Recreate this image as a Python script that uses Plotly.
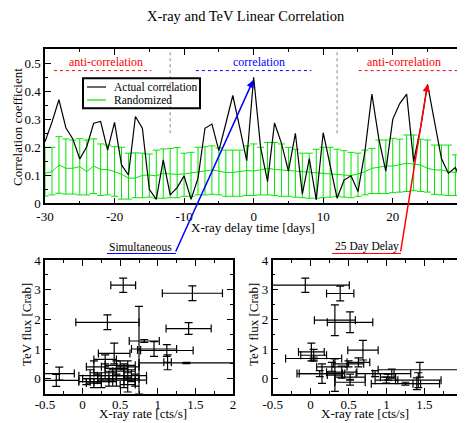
import plotly.graph_objects as go

# ---------------- data ----------------
days = list(range(-30, 31))
actual_corr = [0.22, 0.29, 0.37, 0.27, 0.23, 0.158, 0.202, 0.286, 0.292, 0.19,
               0.289, 0.137, 0.101, 0.31, 0.268, 0.05, 0.014, 0.155, 0.03, 0.056,
               0.098, 0.014, 0.09, 0.268, 0.283, 0.188, 0.285, 0.385, 0.27, 0.152,
               0.45,
               0.2, 0.077, 0.287, 0.214, 0.115, 0.25, 0.033, 0.16, 0.012, 0.252,
               0.135, 0.018, 0.083, 0.098, 0.042, 0.185, 0.39, 0.23, 0.115, 0.3,
               0.356, 0.39, 0.149, 0.27, 0.425, 0.285, 0.16, 0.107, 0.128, 0.07]
rand_mean = [0.107, 0.113, 0.137, 0.125, 0.125, 0.131, 0.113, 0.133, 0.121, 0.121,
             0.113, 0.104, 0.09, 0.09, 0.1, 0.101, 0.098, 0.107, 0.105, 0.103,
             0.105, 0.108, 0.113, 0.115, 0.119, 0.115, 0.11, 0.11, 0.113, 0.117,
             0.115,
             0.119, 0.125, 0.121, 0.119, 0.115, 0.115, 0.113, 0.11, 0.107, 0.107,
             0.105, 0.101, 0.101, 0.099, 0.105, 0.113, 0.125, 0.129, 0.133, 0.133,
             0.137, 0.143, 0.14, 0.137, 0.125, 0.119, 0.119, 0.113, 0.11, 0.113]
rand_upper = [0.2, 0.2, 0.238, 0.23, 0.226, 0.231, 0.226, 0.23, 0.212, 0.208,
              0.202, 0.2, 0.179, 0.18, 0.179, 0.176, 0.19, 0.194, 0.196, 0.199,
              0.179, 0.182, 0.2, 0.202, 0.205, 0.198, 0.19, 0.19, 0.19, 0.205,
              0.212,
              0.2, 0.217, 0.217, 0.212, 0.2, 0.193, 0.179, 0.179, 0.193, 0.2,
              0.2, 0.193, 0.188, 0.182, 0.179, 0.19, 0.196, 0.226, 0.226, 0.232,
              0.229, 0.244, 0.244, 0.229, 0.226, 0.208, 0.208, 0.208, 0.173, 0.19]
rand_lower = [0.026, 0.03, 0.036, 0.033, 0.033, 0.03, 0.03, 0.035, 0.028, 0.03,
              0.025, 0.015, 0.015, 0.02, 0.02, 0.022, 0.018, 0.018, 0.02, 0.02,
              0.025, 0.025, 0.03, 0.03, 0.032, 0.03, 0.025, 0.025, 0.025, 0.028,
              0.028,
              0.03, 0.03, 0.028, 0.025, 0.025, 0.022, 0.02, 0.018, 0.018, 0.02,
              0.022, 0.025, 0.022, 0.02, 0.025, 0.03, 0.035, 0.035, 0.035, 0.038,
              0.04, 0.042, 0.045, 0.042, 0.04, 0.032, 0.03, 0.028, 0.028, 0.03]

# Simultaneous X-ray / TeV
sim_x = [0.54, 1.46, 0.33, 1.41, 0.75, 0.82, 0.95, 1.12, 1.13, 1.38, 0.42, 0.30, 0.15,
         -0.31, -0.35, 0.05, 0.15, 0.20, 0.25, 0.30, 0.40, 0.45, 0.50, 0.55, 0.55, 0.60,
         0.60, 0.65, 0.70, 0.45, 0.35, 0.10]
sim_y = [3.15, 2.88, 1.90, 1.69, 0.97, 1.27, 1.00, 0.95, 0.55, 0.53, 0.85, 0.65, 0.40,
         0.17, -0.06, -0.10, -0.15, 0.00, -0.10, 0.20, 0.10, 0.35, 0.45, 0.25, 0.00, 0.40,
         -0.20, 0.10, -0.05, -0.05, 0.00, 0.10]
sim_xerr = [0.165, 0.40, 0.42, 0.30, 0.02, 0.20, 0.30, 0.35, 0.05, 0.63, 0.21, 0.15, 0.10,
            0.20, 0.30, 0.10, 0.10, 0.20, 0.15, 0.15, 0.20, 0.15, 0.20, 0.15, 0.20, 0.15,
            0.10, 0.20, 0.15, 0.25, 0.10, 0.15]
sim_yerr = [0.24, 0.25, 0.25, 0.20, 1.47, 0.05, 0.25, 0.20, 0.25, 0.02, 0.35, 0.15, 0.20,
            0.22, 0.20, 0.10, 0.15, 0.15, 0.20, 0.20, 0.20, 0.25, 0.15, 0.25, 0.30, 0.20,
            0.25, 0.20, 0.20, 0.20, 0.25, 0.20]

# 25 day delay
del_x = [-0.07, 0.39, 0.32, 0.52, 0.01, 0.04, 0.69, 0.04, 0.15, 0.32, 1.02, 1.44, 1.40,
         1.25, 0.50, 0.63, 0.12, 0.41, 0.52, 0.52, 0.85, 1.00, 1.07, 1.42, 0.28]
del_y = [3.15, 2.87, 1.97, 1.90, 0.90, 0.79, 0.96, 0.68, 0.17, 0.12, 0.05, 0.30, -0.17,
         -0.17, 0.50, 0.55, 0.17, 0.22, 0.05, -0.12, 0.17, -0.05, 0.17, -0.05, 0.40]
del_xerr = [0.58, 0.18, 0.27, 0.30, 0.17, 0.17, 0.20, 0.37, 0.30, 0.10, 0.10, 0.55, 0.05,
            0.45, 0.20, 0.15, 0.30, 0.20, 0.20, 0.20, 0.25, 0.15, 0.25, 0.30, 0.20]
del_yerr = [0.24, 0.25, 0.52, 0.35, 0.30, 0.20, 0.33, 0.05, 0.33, 0.55, 0.10, 0.25, 0.20,
            0.05, 0.10, 0.15, 0.10, 0.20, 0.10, 0.10, 0.10, 0.10, 0.15, 0.25, 0.15]

top_xticks = [-30, -20, -10, 0, 10, 20, 30]
top_yticks = [0, 0.1, 0.2, 0.3, 0.4, 0.5]
sc_xticks = [-0.5, 0, 0.5, 1, 1.5, 2]
sc_yticks = [0, 1, 2, 3, 4]

# ---------------- figure ----------------
OFF = 8                      # page body margin of the html page
W, H = 465 - OFF, 423 - OFF
FONT = "Liberation Serif"
GREEN = "#00e600"


def px(v):
    return (v - OFF) / W


def py(v):
    return 1 - (v - OFF) / H


def lab(v):
    return "%g" % v


fig = go.Figure()

fig.add_trace(go.Scatter(
    x=days, y=rand_mean, mode="lines", line=dict(color=GREEN, width=1),
    error_y=dict(type="data", symmetric=False,
                 array=[u - m for u, m in zip(rand_upper, rand_mean)],
                 arrayminus=[m - l for m, l in zip(rand_mean, rand_lower)],
                 color=GREEN, thickness=1, width=3.5),
    xaxis="x", yaxis="y", showlegend=False))
fig.add_trace(go.Scatter(
    x=days, y=actual_corr, mode="lines", line=dict(color="black", width=1.2),
    xaxis="x", yaxis="y", showlegend=False))

errkw = dict(type="data", color="black", thickness=1.2, width=4)
fig.add_trace(go.Scatter(
    x=sim_x, y=sim_y, mode="markers", marker=dict(size=1, color="black"),
    error_x=dict(array=sim_xerr, **errkw), error_y=dict(array=sim_yerr, **errkw),
    xaxis="x2", yaxis="y2", showlegend=False))
fig.add_trace(go.Scatter(
    x=del_x, y=del_y, mode="markers", marker=dict(size=1, color="black"),
    error_x=dict(array=del_xerr, **errkw), error_y=dict(array=del_yerr, **errkw),
    xaxis="x3", yaxis="y3", showlegend=False))

axbase = dict(showline=True, linecolor="black", linewidth=1.5, mirror="ticks",
              ticks="inside", ticklen=6, tickwidth=1, tickcolor="black",
              showgrid=False, zeroline=False, automargin=False,
              tickfont=dict(family=FONT, size=13, color="black"))


def minor(d):
    return dict(dtick=d, ticks="inside", ticklen=3, tickcolor="black")


fig.update_layout(
    width=W, height=H, autosize=False,
    margin=dict(l=0, r=0, t=0, b=0, pad=0),
    paper_bgcolor="white", plot_bgcolor="white",
    showlegend=False,
    xaxis=dict(domain=[px(45), px(462.3)], anchor="y", range=[-30, 30],
               tickvals=top_xticks, ticktext=[lab(v) for v in top_xticks],
               minor=minor(5), **axbase),
    yaxis=dict(domain=[py(203.3), py(49.3)], anchor="x", range=[0, 0.55],
               tickvals=top_yticks, ticktext=[lab(v) for v in top_yticks],
               minor=minor(0.05), **axbase),
    xaxis2=dict(domain=[px(45), px(233)], anchor="y2", range=[-0.5, 2],
                tickvals=sc_xticks, ticktext=[lab(v) for v in sc_xticks],
                minor=minor(0.25), ticklabelstandoff=-2, **axbase),
    yaxis2=dict(domain=[py(393.5), py(260)], anchor="x2", range=[-0.5, 4],
                tickvals=sc_yticks, ticktext=[lab(v) for v in sc_yticks],
                minor=minor(0.5), **axbase),
    xaxis3=dict(domain=[px(272.7), px(462.3)], anchor="y3", range=[-0.5, 2],
                tickvals=sc_xticks, ticktext=[lab(v) for v in sc_xticks],
                minor=minor(0.25), ticklabelstandoff=-2, **axbase),
    yaxis3=dict(domain=[py(393.5), py(260)], anchor="x3", range=[-0.5, 4],
                tickvals=sc_yticks, ticktext=[lab(v) for v in sc_yticks],
                minor=minor(0.5), **axbase),
)

shapes = []
annos = []


def text(x, y, s, size=13, color="black", xanchor="center", angle=0):
    annos.append(dict(x=x, y=y, xref="paper", yref="paper", text=s, showarrow=False,
                      xanchor=xanchor, yanchor="middle", textangle=angle,
                      font=dict(family=FONT, size=size, color=color)))


# title and axis titles
text(px(246), py(16), "X-ray and TeV Linear Correlation", size=14.5)
text(px(253), py(227), "X-ray delay time [days]")
text(px(18), py(127), "Correlation coefficient", angle=-90)
text(px(143), py(413), "X-ray rate [cts/s]")
text(px(26), py(325), "TeV flux [Crab]", angle=-90)
text(px(365), py(413), "X-ray rate [cts/s]")
text(px(253), py(325), "TeV flux [Crab]", angle=-90)

# region labels
text(px(106), py(62.5), "anti-correlation", size=12, color="red")
text(px(259), py(62.5), "correlation", size=12, color="blue")
text(px(404), py(62.5), "anti-correlation", size=12, color="red")
for x0, x1, c in [(-28.7, -14.7, "red"), (-8.3, 8.3, "blue"), (15.1, 29.4, "red")]:
    shapes.append(dict(type="line", xref="x", yref="y", x0=x0, x1=x1, y0=0.474, y1=0.474,
                       line=dict(color=c, width=1, dash="dot")))
for xv in (-12, 12):
    shapes.append(dict(type="line", xref="x", yref="y", x0=xv, x1=xv, y0=0.25, y1=0.545,
                       line=dict(color="#999999", width=1.2, dash="dot")))

# legend box
shapes.append(dict(type="rect", xref="paper", yref="paper",
                   x0=px(83), x1=px(200), y0=py(108.3), y1=py(78.3),
                   line=dict(color="black", width=2)))
shapes.append(dict(type="line", xref="paper", yref="paper", x0=px(87), x1=px(106),
                   y0=py(87), y1=py(87), line=dict(color="black", width=1.2)))
shapes.append(dict(type="line", xref="paper", yref="paper", x0=px(87), x1=px(106),
                   y0=py(100), y1=py(100), line=dict(color=GREEN, width=1.2)))
text(px(112), py(87), "Actual correlation", size=11.5, xanchor="left")
text(px(112), py(100), "Randomized", size=11.5, xanchor="left")

# callouts
text(px(140), py(246.5), "Simultaneous", size=11.5)
text(px(367), py(246), "25 Day Delay", size=11.5)
shapes.append(dict(type="line", xref="paper", yref="paper", x0=px(107), x1=px(176),
                   y0=py(253.5), y1=py(253.5), line=dict(color="blue", width=1.2)))
shapes.append(dict(type="line", xref="paper", yref="paper", x0=px(332), x1=px(401),
                   y0=py(253.5), y1=py(253.5), line=dict(color="red", width=1.2)))
annos.append(dict(x=-0.05, y=0.44, xref="x", yref="y", axref="x", ayref="y",
                  ax=-11.3, ay=-0.1775, text="", showarrow=True, arrowhead=2,
                  arrowsize=1, arrowwidth=1.5, arrowcolor="blue"))
annos.append(dict(x=25.0, y=0.425, xref="x", yref="y", axref="x", ayref="y",
                  ax=21.1, ay=-0.1775, text="", showarrow=True, arrowhead=2,
                  arrowsize=1, arrowwidth=1.5, arrowcolor="red"))

fig.update_layout(shapes=shapes, annotations=annos)
fig.write_html("out.html")
